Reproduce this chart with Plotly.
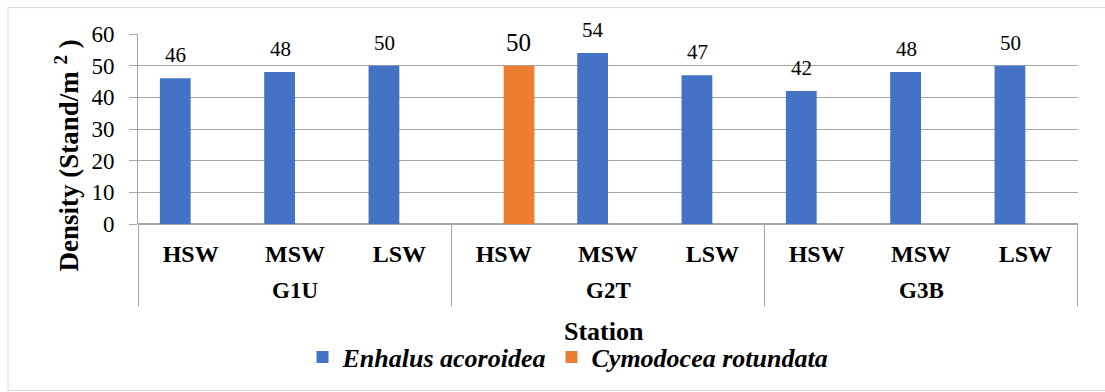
import plotly.graph_objects as go

# Seagrass stand density by station and zone
station_names = ["G1U", "G2T", "G3B"]
stations = ["G1U", "G1U", "G1U", "G2T", "G2T", "G2T", "G3B", "G3B", "G3B"]
zones = ["HSW", "MSW", "LSW", "HSW", "MSW", "LSW", "HSW", "MSW", "LSW"]
enhalus = [46, 48, 50, None, 54, 47, 42, 48, 50]
cymodocea = [None, None, None, 50, None, None, None, None, None]

SERIF = "Liberation Serif, Times New Roman, serif"
GRID = "#a6a6a6"
BLACK = "#000000"

# one category per station/zone pair; the zone is shown as the tick text
cats = [f"{s} {z}" for s, z in zip(stations, zones)]

fig = go.Figure()
fig.add_trace(go.Bar(
    name="<b><i>Enhalus acoroidea</i></b>",
    x=cats, y=enhalus,
    marker=dict(color="#4472c4", line=dict(width=0)),
))
fig.add_trace(go.Bar(
    name="<b><i>Cymodocea rotundata</i></b>",
    x=cats, y=cymodocea,
    marker=dict(color="#ed7d31", line=dict(width=0)),
))

L, R, T, B = 138, 27, 34, 164
W, H = 1105, 392
pw, ph = W - L - R, H - T - B


def px(xp):
    return (xp - L) / pw


def py(yp):
    return (H - B - yp) / ph


annotations = []
# value labels above each bar (the two series sit side by side in a category)
for c, v in zip(cats, enhalus):
    if v is not None:
        annotations.append(dict(x=c, y=v, xref="x", yref="y", text=str(v),
                                showarrow=False, yanchor="bottom", xshift=-15, yshift=9,
                                font=dict(family=SERIF, size=21, color=BLACK)))
for c, v in zip(cats, cymodocea):
    if v is not None:
        annotations.append(dict(x=c, y=v, xref="x", yref="y", text=str(v),
                                showarrow=False, yanchor="bottom", xshift=15, yshift=8,
                                font=dict(family=SERIF, size=25, color=BLACK)))
# station group labels
for i, s in enumerate(station_names):
    annotations.append(dict(x=cats[i * 3 + 1], y=py(296), xref="x", yref="paper",
                            text=f"<b>{s}</b>", showarrow=False, yanchor="middle",
                            font=dict(family=SERIF, size=23, color=BLACK)))
# axis titles
annotations.append(dict(x=px(604), y=py(338), xref="paper", yref="paper",
                        text="<b>Station</b>", showarrow=False, yanchor="middle",
                        font=dict(family=SERIF, size=26, color=BLACK)))
annotations.append(dict(x=px(67), y=py(158), xref="paper", yref="paper",
                        text="<b>Density (Stand/m <sup>2</sup> )</b>", textangle=-90,
                        showarrow=False, xanchor="center", yanchor="middle",
                        font=dict(family=SERIF, size=27, color=BLACK)))

shapes = [
    dict(type="rect", xref="paper", yref="paper",
         x0=px(8), x1=px(1112), y0=py(7), y1=py(398),
         line=dict(color="#d9d9d9", width=1), fillcolor="rgba(0,0,0,0)", layer="below"),
]
# group dividers below the category axis
for xb in [-0.5, 2.5, 5.5, 8.5]:
    shapes.append(dict(type="line", xref="x", yref="paper", x0=xb, x1=xb,
                       y0=0, y1=py(312), line=dict(color=GRID, width=1)))

fig.update_layout(
    width=W, height=H,
    margin=dict(l=L, r=R, t=T, b=B),
    paper_bgcolor="white", plot_bgcolor="white",
    barmode="group", bargap=0.41, bargroupgap=0,
    font=dict(family=SERIF, color=BLACK),
    showlegend=True,
    legend=dict(
        orientation="h", x=px(568), xanchor="center", y=py(364), yanchor="middle",
        font=dict(family=SERIF, size=26, color=BLACK),
        traceorder="normal",
    ),
    xaxis=dict(
        type="category", tickvals=cats, ticktext=[f"<b>{z}</b>" for z in zones],
        showgrid=False, showline=False, ticks="",
        tickfont=dict(family=SERIF, size=24, color=BLACK),
        ticklabelstandoff=13,
    ),
    yaxis=dict(
        range=[0, 60], dtick=10,
        showgrid=True, gridcolor=GRID, gridwidth=1,
        showline=True, linecolor=GRID, linewidth=1,
        ticks="outside", ticklen=8, tickcolor=GRID,
        tickfont=dict(family=SERIF, size=23, color=BLACK),
        ticklabelstandoff=10,
        zeroline=True, zerolinecolor=GRID,
    ),
    annotations=annotations,
    shapes=shapes,
)

fig.write_html("out.html")
